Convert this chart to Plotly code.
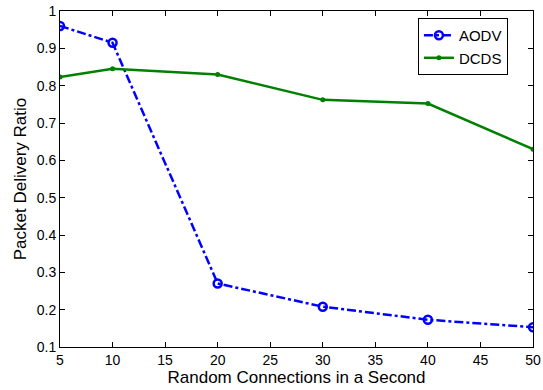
import plotly.graph_objects as go

x_vals = [5, 10, 20, 30, 40, 50]
aodv = [0.96, 0.915, 0.27, 0.208, 0.173, 0.153]
dcds = [0.823, 0.845, 0.83, 0.762, 0.752, 0.63]
x_ticks = [5, 10, 15, 20, 25, 30, 35, 40, 45, 50]
y_ticks = [0.1, 0.2, 0.3, 0.4, 0.5, 0.6, 0.7, 0.8, 0.9, 1.0]
y_labels = ["0.1", "0.2", "0.3", "0.4", "0.5", "0.6", "0.7", "0.8", "0.9", "1"]

FONT = "Liberation Sans, Arial, Helvetica, sans-serif"

fig = go.Figure()
fig.add_trace(go.Scatter(
    x=x_vals, y=aodv, name="AODV", mode="lines+markers",
    line=dict(color="#0000ff", width=2.5, dash="dashdot"),
    marker=dict(symbol="circle-open", size=8, color="#0000ff", line=dict(width=2.5, color="#0000ff")),
))
fig.add_trace(go.Scatter(
    x=x_vals, y=dcds, name="DCDS", mode="lines+markers",
    line=dict(color="#008000", width=2.5),
    marker=dict(symbol="circle", size=5, color="#008000"),
))

axis_common = dict(
    showline=True, linecolor="black", linewidth=1, mirror="ticks",
    ticks="inside", ticklen=5, tickcolor="black", showgrid=False, zeroline=False,
    automargin=False,
    tickfont=dict(family=FONT, size=14, color="black"),
)
fig.update_xaxes(range=[5, 50], tickvals=x_ticks,
                 title=dict(text="Random Connections in a Second", standoff=1,
                            font=dict(family=FONT, size=17, color="black")),
                 **axis_common)
fig.update_yaxes(range=[0.1, 1.0], tickvals=y_ticks, ticktext=y_labels,
                 title=dict(text="Packet Delivery Ratio", standoff=5,
                            font=dict(family=FONT, size=17, color="black")),
                 **axis_common)

fig.update_layout(
    width=543, height=390,
    margin=dict(l=60, r=10, t=11, b=43, autoexpand=False),
    plot_bgcolor="white", paper_bgcolor="white",
    legend=dict(x=0.947, y=0.979, xanchor="right", yanchor="top",
                bordercolor="black", borderwidth=1, bgcolor="white",
                font=dict(family=FONT, size=15, color="black"),
                tracegroupgap=0, itemwidth=30),
    showlegend=True,
)

fig.write_html("out.html")
